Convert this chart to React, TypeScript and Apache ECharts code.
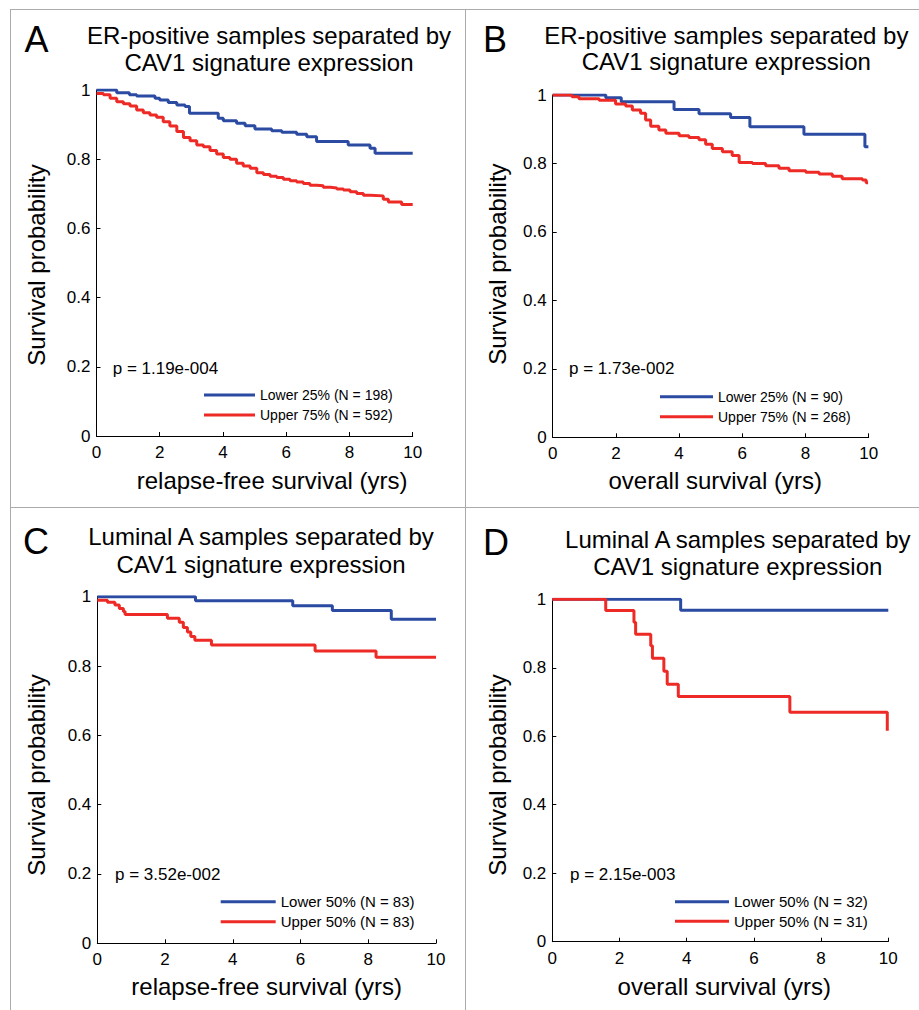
import React, { useEffect, useRef } from 'react';
import * as echarts from 'echarts';

const FONT = '"Liberation Sans", Arial, Helvetica, sans-serif';
const BLUE = '#2B4BA3';
const RED = '#EE2A26';
const INK = '#000000';

// ---------- Data ----------
const xTicks = [0, 2, 4, 6, 8, 10];
const yTicks = [0, 0.2, 0.4, 0.6, 0.8, 1];

// Panel A: ER-positive, relapse-free survival
const aLowerName = 'Lower 25% (N = 198)';
const aLowerT = [0, 0.64, 1.04, 1.27, 1.85, 2.0, 2.27, 2.54, 2.8, 2.94, 3.85, 4.01, 4.43, 4.7, 5.01, 5.54, 5.86, 6.33, 6.65, 6.96, 7.96, 8.65, 8.81, 10];
const aLowerS = [1.0, 0.992, 0.986, 0.983, 0.976, 0.971, 0.964, 0.957, 0.952, 0.933, 0.918, 0.911, 0.904, 0.897, 0.887, 0.882, 0.878, 0.872, 0.865, 0.851, 0.841, 0.832, 0.817, 0.817];
const aUpperName = 'Upper 75% (N = 592)';
const aUpperT = [0, 0.22, 0.43, 0.64, 0.85, 1.06, 1.27, 1.48, 1.69, 1.9, 2.11, 2.32, 2.54, 2.75, 2.96, 3.17, 3.38, 3.59, 3.8, 4.01, 4.22, 4.43, 4.64, 4.86, 5.07, 5.28, 5.49, 5.7, 5.91, 6.12, 6.33, 6.54, 6.75, 6.96, 7.17, 7.39, 7.6, 7.81, 8.02, 8.23, 8.44, 8.65, 9.07, 9.23, 9.65, 10];
const aUpperS = [0.99, 0.986, 0.976, 0.966, 0.96, 0.954, 0.942, 0.934, 0.928, 0.921, 0.908, 0.896, 0.88, 0.863, 0.853, 0.841, 0.836, 0.825, 0.815, 0.805, 0.8, 0.788, 0.78, 0.774, 0.761, 0.756, 0.751, 0.747, 0.742, 0.738, 0.734, 0.73, 0.725, 0.723, 0.719, 0.717, 0.714, 0.711, 0.706, 0.701, 0.696, 0.694, 0.684, 0.676, 0.669, 0.669];
const aP = 'p = 1.19e-004';

// Panel B: ER-positive, overall survival
const bLowerName = 'Lower 25% (N = 90)';
const bLowerT = [0, 1.68, 2.17, 3.84, 4.63, 5.63, 6.24, 7.95, 9.88, 9.99];
const bLowerS = [1.0, 0.992, 0.98, 0.958, 0.945, 0.934, 0.907, 0.885, 0.849, 0.849];
const bUpperName = 'Upper 75% (N = 268)';
const bUpperT = [0, 0.61, 0.83, 1.47, 1.99, 2.31, 2.52, 2.78, 2.94, 3.1, 3.36, 3.58, 4.0, 4.31, 4.63, 4.84, 5.05, 5.37, 5.68, 5.9, 6.32, 6.74, 7.16, 7.48, 8.01, 8.43, 8.85, 9.16, 9.8, 9.92, 9.98];
const bUpperS = [1.0, 0.995, 0.989, 0.985, 0.974, 0.968, 0.956, 0.947, 0.927, 0.909, 0.898, 0.888, 0.881, 0.876, 0.869, 0.856, 0.844, 0.834, 0.823, 0.803, 0.8, 0.793, 0.786, 0.779, 0.774, 0.769, 0.763, 0.755, 0.752, 0.744, 0.744];
const bP = 'p = 1.73e-002';

// Panel C: Luminal A, relapse-free survival
const cLowerName = 'Lower 50% (N = 83)';
const cLowerT = [0, 2.9, 5.77, 6.94, 8.68, 10];
const cLowerS = [1.0, 0.988, 0.974, 0.96, 0.935, 0.935];
const cUpperName = 'Upper 50% (N = 83)';
const cUpperT = [0, 0.3, 0.52, 0.65, 0.77, 0.82, 2.07, 2.42, 2.54, 2.66, 2.76, 2.88, 3.37, 6.43, 8.23, 10];
const cUpperS = [0.99, 0.984, 0.976, 0.966, 0.957, 0.949, 0.938, 0.926, 0.911, 0.898, 0.885, 0.874, 0.861, 0.843, 0.825, 0.825];
const cP = 'p = 3.52e-002';

// Panel D: Luminal A, overall survival
const dLowerName = 'Lower 50% (N = 32)';
const dLowerT = [0, 3.82, 10];
const dLowerS = [1.0, 0.968, 0.968];
const dUpperName = 'Upper 50% (N = 31)';
const dUpperT = [0, 1.59, 2.43, 2.48, 2.93, 2.98, 3.32, 3.42, 3.75, 7.07, 9.97];
const dUpperS = [1.0, 0.967, 0.933, 0.898, 0.864, 0.828, 0.79, 0.752, 0.716, 0.67, 0.616];
const dP = 'p = 2.15e-003';

const titleTop = ['ER-positive samples separated by', 'ER-positive samples separated by', 'Luminal A samples separated by', 'Luminal A samples separated by'];
const titleBottom = 'CAV1 signature expression';
const letters = ['A', 'B', 'C', 'D'];
const xNames = ['relapse-free survival (yrs)', 'overall survival (yrs)', 'relapse-free survival (yrs)', 'overall survival (yrs)'];
const yName = 'Survival probability';

// ---------- Layout (pixels) ----------
const layout = [
  { grid: { left: 96.5, top: 90, width: 316.2, height: 346 }, title: [269, 35, 62], letter: [24.5, 39.5], p: [112.7, 368], legend: { left: 204, top: 388, w: 51, fs: 14, gap: 6 }, xGap: 32, xPad: 35, yGap: 48, yPad: [0, 4, 0, 0] },
  { grid: { left: 552.7, top: 95, width: 316, height: 342.3 }, title: [726.3, 35, 61.7], letter: [483, 39], p: [569, 368.3], legend: { left: 660, top: 389.7, w: 53, fs: 14, gap: 6 }, xGap: 30.7, xPad: 9, yGap: 43.4, yPad: [0, 0, 0, 4] },
  { grid: { left: 97.3, top: 596.7, width: 338.7, height: 346.6 }, title: [261, 536.7, 564.3], letter: [23, 541], p: [115, 874.3], legend: { left: 220.7, top: 894.2, w: 55, fs: 15, gap: 5 }, xGap: 31.4, xPad: 0, yGap: 48.6, yPad: [0, 10, 0, 0] },
  { grid: { left: 552.3, top: 599.3, width: 336, height: 342.4 }, title: [737.8, 539.3, 566.7], letter: [483, 542.5], p: [570, 874.3], legend: { left: 675, top: 894.2, w: 54, fs: 15, gap: 4.5 }, xGap: 33, xPad: 8, yGap: 43, yPad: [0, 9, 0, 0] },
];

const zip = (t: number[], s: number[]) => t.map((v, i) => [v, s[i]]);

const curves = [
  { lowerName: aLowerName, lower: zip(aLowerT, aLowerS), upperName: aUpperName, upper: zip(aUpperT, aUpperS), p: aP },
  { lowerName: bLowerName, lower: zip(bLowerT, bLowerS), upperName: bUpperName, upper: zip(bUpperT, bUpperS), p: bP },
  { lowerName: cLowerName, lower: zip(cLowerT, cLowerS), upperName: cUpperName, upper: zip(cUpperT, cUpperS), p: cP },
  { lowerName: dLowerName, lower: zip(dLowerT, dLowerS), upperName: dUpperName, upper: zip(dUpperT, dUpperS), p: dP },
];

function buildOption() {
  const grids: any[] = [];
  const xAxes: any[] = [];
  const yAxes: any[] = [];
  const series: any[] = [];
  const legends: any[] = [];
  const graphics: any[] = [];

  // panel borders
  const border = { stroke: '#ABABAB', lineWidth: 1 };
  graphics.push({ type: 'line', shape: { x1: 10, y1: 9.5, x2: 919, y2: 9.5 }, style: border, silent: true });
  graphics.push({ type: 'line', shape: { x1: 10.5, y1: 9.5, x2: 10.5, y2: 1010 }, style: border, silent: true });
  graphics.push({ type: 'line', shape: { x1: 465.5, y1: 9.5, x2: 465.5, y2: 1010 }, style: border, silent: true });
  graphics.push({ type: 'line', shape: { x1: 10, y1: 507.5, x2: 919, y2: 507.5 }, style: border, silent: true });

  layout.forEach((L, i) => {
    const C = curves[i];
    grids.push({ left: L.grid.left, top: L.grid.top, width: L.grid.width, height: L.grid.height, containLabel: false });
    xAxes.push({
      gridIndex: i, type: 'value', min: xTicks[0], max: xTicks[xTicks.length - 1], interval: xTicks[1] - xTicks[0],
      name: xNames[i], nameLocation: 'middle', nameGap: L.xGap,
      nameTextStyle: { fontSize: 24, fontFamily: FONT, color: INK, padding: [0, 0, 0, L.xPad] },
      axisLine: { show: true, onZero: false, lineStyle: { color: INK, width: 1 } },
      axisTick: { show: true, inside: true, length: 4, lineStyle: { color: INK, width: 1 } },
      axisLabel: { fontSize: 17, fontFamily: FONT, color: INK, margin: 8 },
      splitLine: { show: false },
    });
    yAxes.push({
      gridIndex: i, type: 'value', min: yTicks[0], max: yTicks[yTicks.length - 1], interval: yTicks[1] - yTicks[0],
      name: yName, nameLocation: 'middle', nameGap: L.yGap,
      nameTextStyle: { fontSize: 24, fontFamily: FONT, color: INK, padding: L.yPad },
      axisLine: { show: true, onZero: false, lineStyle: { color: INK, width: 1 } },
      axisTick: { show: true, inside: true, length: 4, lineStyle: { color: INK, width: 1 } },
      axisLabel: { fontSize: 17, fontFamily: FONT, color: INK, margin: 6 },
      splitLine: { show: false },
    });
    series.push({
      type: 'line', name: C.lowerName, xAxisIndex: i, yAxisIndex: i, data: C.lower, step: 'end',
      showSymbol: false, symbol: 'none', color: BLUE, lineStyle: { width: 3, color: BLUE }, itemStyle: { color: BLUE }, z: 2,
    });
    series.push({
      type: 'line', name: C.upperName, xAxisIndex: i, yAxisIndex: i, data: C.upper, step: 'end',
      showSymbol: false, symbol: 'none', color: RED, lineStyle: { width: 3, color: RED }, itemStyle: { color: RED }, z: 3,
    });
    legends.push({
      orient: 'vertical', left: L.legend.left, top: L.legend.top, padding: 0,
      itemWidth: L.legend.w, itemHeight: 3, itemGap: L.legend.gap, icon: 'rect', selectedMode: false,
      data: [C.lowerName, C.upperName],
      textStyle: { fontSize: L.legend.fs, lineHeight: L.legend.fs, fontFamily: FONT, color: INK },
    });
    // panel letter
    graphics.push({
      type: 'text', x: L.letter[0], y: L.letter[1], silent: true,
      style: { text: letters[i], fontSize: 36, fontFamily: FONT, fill: INK, textAlign: 'left', textVerticalAlign: 'middle', align: 'left', verticalAlign: 'middle' },
    });
    // title (two lines)
    graphics.push({
      type: 'text', x: L.title[0], y: L.title[1], silent: true,
      style: { text: titleTop[i], fontSize: 24, fontFamily: FONT, fill: INK, textAlign: 'center', textVerticalAlign: 'middle', align: 'center', verticalAlign: 'middle' },
    });
    graphics.push({
      type: 'text', x: L.title[0], y: L.title[2], silent: true,
      style: { text: titleBottom, fontSize: 24, fontFamily: FONT, fill: INK, textAlign: 'center', textVerticalAlign: 'middle', align: 'center', verticalAlign: 'middle' },
    });
    // p-value
    graphics.push({
      type: 'text', x: L.p[0], y: L.p[1], silent: true,
      style: { text: C.p, fontSize: 17, fontFamily: FONT, fill: INK, textAlign: 'left', textVerticalAlign: 'middle', align: 'left', verticalAlign: 'middle' },
    });
  });

  return {
    animation: false,
    backgroundColor: '#ffffff',
    textStyle: { fontFamily: FONT },
    grid: grids,
    xAxis: xAxes,
    yAxis: yAxes,
    legend: legends,
    series,
    graphic: graphics,
  };
}

export default function App() {
  const ref = useRef<HTMLDivElement>(null);
  useEffect(() => {
    if (!ref.current) return;
    const chart = echarts.init(ref.current, undefined, { renderer: 'svg' });
    chart.setOption(buildOption() as any);
    return () => chart.dispose();
  }, []);
  return (
    <div
      ref={ref}
      style={{ position: 'fixed', left: 0, top: 0, width: 919, height: 1010, background: '#ffffff' }}
    />
  );
}
